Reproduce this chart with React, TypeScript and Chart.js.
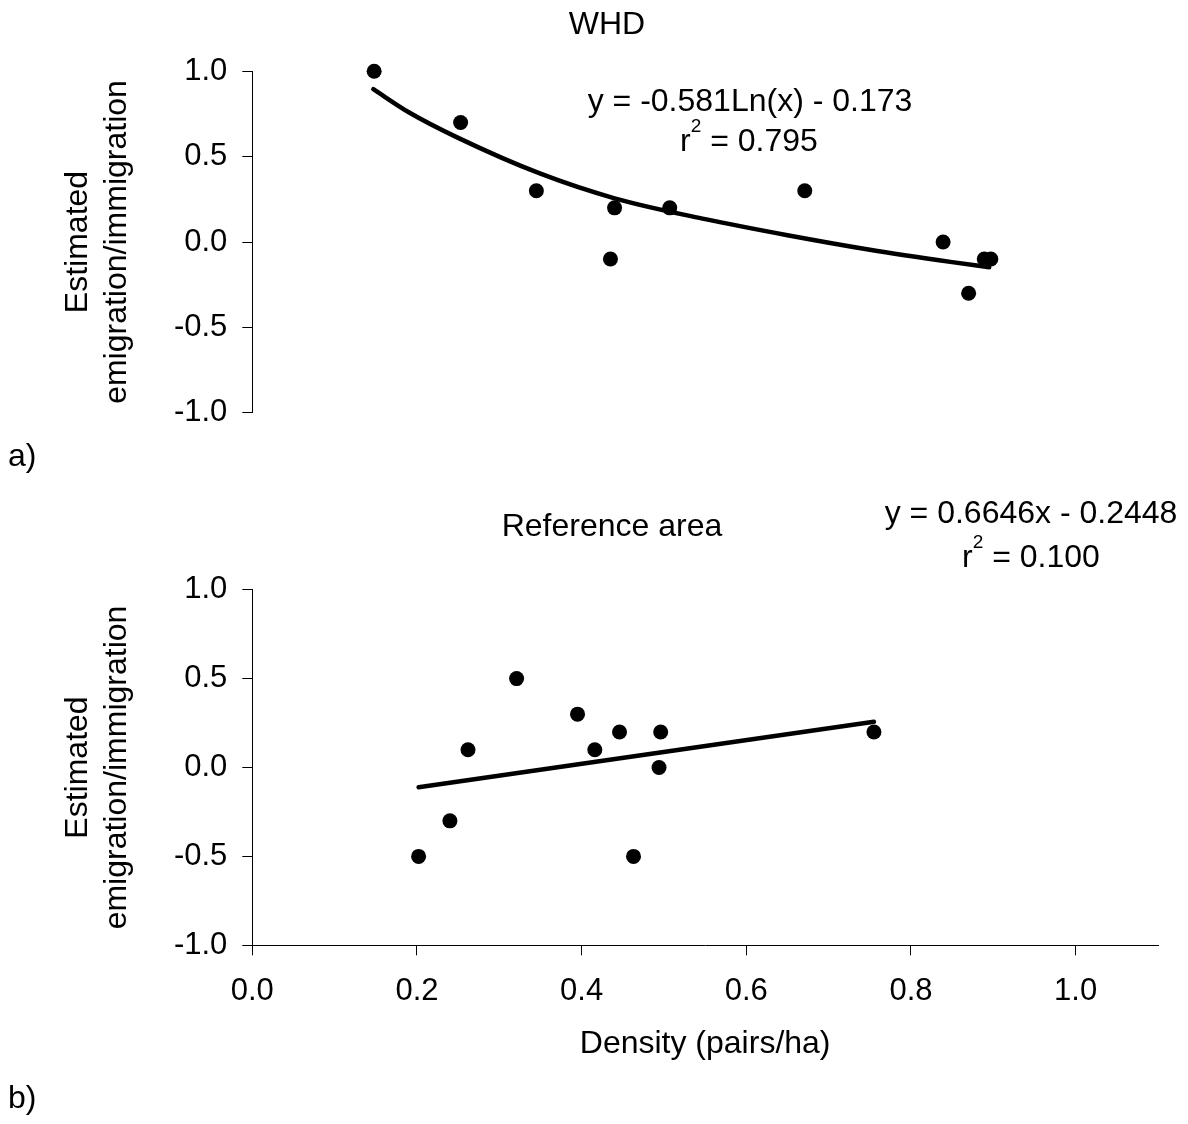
import React, { useEffect, useRef } from 'react';
import { Chart, registerables } from 'chart.js';

Chart.register(...registerables);

const FONT = '"Liberation Sans", Arial, Helvetica, sans-serif';

// Panel a) WHD
const whdDensity = [0.148, 0.253, 0.345, 0.440, 0.435, 0.507, 0.671, 0.839, 0.870, 0.889, 0.897];
const whdEmigration = [1.0, 0.7, 0.3, 0.2, -0.1, 0.2, 0.3, 0.0, -0.3, -0.1, -0.1];
const whdTrendDensity = [0.147, 0.19, 0.25, 0.35, 0.44, 0.55, 0.65, 0.75, 0.85, 0.895];
const whdTrendValue = [0.895, 0.76, 0.61, 0.40, 0.256, 0.134, 0.04, -0.045, -0.118, -0.148];

// Panel b) Reference area
const refDensity = [0.202, 0.240, 0.262, 0.321, 0.395, 0.416, 0.446, 0.463, 0.494, 0.496, 0.755];
const refEmigration = [-0.5, -0.3, 0.1, 0.5, 0.3, 0.1, 0.2, -0.5, 0.0, 0.2, 0.2];
const refTrendDensity = [0.202, 0.755];
const refTrendValue = [-0.111, 0.257];

const xTickValues = [0, 0.2, 0.4, 0.6, 0.8, 1.0];
const yTickValues = [-1, -0.5, 0, 0.5, 1];

const panelTitles = ['WHD', 'Reference area'];
const panelLetters = ['a)', 'b)'];
const whdEquation = 'y = -0.581Ln(x) - 0.173';
const whdR2 = '0.795';
const refEquation = 'y = 0.6646x - 0.2448';
const refR2 = '0.100';
const yTitle = ['Estimated', 'emigration/immigration'];
const xTitle = 'Density (pairs/ha)';

const TOP_H = 480;
const BOT_H = 1124 - TOP_H;

type TextItem = { text: string; x: number; y: number; align?: CanvasTextAlign; size?: number };
type R2Item = { value: string; cx: number; y: number };

function textPlugin(id: string, offsetY: number, items: TextItem[], r2s: R2Item[]) {
  return {
    id,
    afterDraw(chart: any) {
      const ctx: CanvasRenderingContext2D = chart.ctx;
      ctx.save();
      ctx.fillStyle = '#000';
      ctx.textBaseline = 'alphabetic';
      for (const it of items) {
        ctx.font = `${it.size ?? 32}px ${FONT}`;
        ctx.textAlign = it.align ?? 'center';
        ctx.fillText(it.text, it.x, it.y - offsetY);
      }
      for (const r of r2s) {
        ctx.font = `32px ${FONT}`;
        const wr = ctx.measureText('r').width;
        const rest = ' = ' + r.value;
        const wrest = ctx.measureText(rest).width;
        ctx.font = `19px ${FONT}`;
        const w2 = ctx.measureText('2').width;
        const total = wr + w2 + wrest;
        let x = r.cx - total / 2;
        ctx.textAlign = 'left';
        ctx.font = `32px ${FONT}`;
        ctx.fillText('r', x, r.y - offsetY);
        x += wr;
        ctx.font = `19px ${FONT}`;
        ctx.fillText('2', x, r.y - offsetY - 19);
        x += w2;
        ctx.font = `32px ${FONT}`;
        ctx.fillText(rest, x, r.y - offsetY);
      }
      ctx.restore();
    },
  };
}

function axisStyle() {
  return {
    grid: { display: true, drawOnChartArea: false, drawTicks: true, tickLength: 10, color: '#000', lineWidth: 1 },
    border: { display: true, color: '#000', width: 1 },
  };
}

function yScale() {
  return {
    type: 'linear',
    min: -1,
    max: 1,
    afterFit: (s: any) => {
      s.width = 252.3;
    },
    afterBuildTicks: (s: any) => {
      s.ticks = yTickValues.map((v) => ({ value: v }));
    },
    ticks: {
      font: { family: FONT, size: 31 },
      color: '#000',
      padding: 15,
      callback: (v: any) => Number(v).toFixed(1),
    },
    ...axisStyle(),
    title: {
      display: true,
      text: yTitle,
      color: '#000',
      font: { family: FONT, size: 32, lineHeight: 1.22 },
      padding: { top: 58.7, bottom: 0 },
    },
  };
}

function datasets(xs: number[], ys: number[], tx: number[], ty: number[]) {
  return [
    {
      label: 'trend',
      data: tx.map((x, i) => ({ x, y: ty[i] })),
      showLine: true,
      pointRadius: 0,
      pointHoverRadius: 0,
      borderColor: '#000',
      borderWidth: 4.5,
      borderCapStyle: 'round',
      cubicInterpolationMode: 'monotone',
      clip: false,
    },
    {
      label: 'points',
      data: xs.map((x, i) => ({ x, y: ys[i] })),
      pointRadius: 7.5,
      pointHoverRadius: 7.5,
      backgroundColor: '#000',
      borderWidth: 0,
      pointBorderWidth: 0,
      clip: false,
    },
  ];
}

const commonPlugins = {
  legend: { display: false },
  tooltip: { enabled: false },
  title: { display: false },
};

export default function App() {
  const topRef = useRef<HTMLCanvasElement>(null);
  const botRef = useRef<HTMLCanvasElement>(null);

  useEffect(() => {
    const top = new Chart(topRef.current as HTMLCanvasElement, {
      type: 'scatter',
      data: { datasets: datasets(whdDensity, whdEmigration, whdTrendDensity, whdTrendValue) as any },
      options: {
        animation: false,
        responsive: false,
        devicePixelRatio: 1,
        events: [],
        layout: { padding: { left: 0, top: 71.3, right: 30, bottom: TOP_H - 412.7 } },
        scales: {
          x: { type: 'linear', min: 0, max: 1.1, display: false },
          y: yScale() as any,
        },
        plugins: commonPlugins as any,
      },
      plugins: [
        textPlugin(
          'topText',
          0,
          [
            { text: panelTitles[0], x: 607, y: 34.3 },
            { text: whdEquation, x: 750, y: 110.7 },
            { text: panelLetters[0], x: 8, y: 466, align: 'left' },
          ],
          [{ value: whdR2, cx: 749, y: 150.7 }]
        ),
      ],
    });

    const bot = new Chart(botRef.current as HTMLCanvasElement, {
      type: 'scatter',
      data: { datasets: datasets(refDensity, refEmigration, refTrendDensity, refTrendValue) as any },
      options: {
        animation: false,
        responsive: false,
        devicePixelRatio: 1,
        events: [],
        layout: { padding: { left: 0, top: 589.7 - TOP_H, right: 30, bottom: 28.7 } },
        scales: {
          x: {
            type: 'linear',
            min: 0,
            max: 1.1,
            afterFit: (s: any) => {
              s.height = 150;
            },
            afterBuildTicks: (s: any) => {
              s.ticks = xTickValues.map((v) => ({ value: v }));
            },
            ticks: {
              font: { family: FONT, size: 31 },
              color: '#000',
              padding: 17.4,
              maxRotation: 0,
              autoSkip: false,
              callback: (v: any) => Number(v).toFixed(1),
            },
            ...axisStyle(),
            title: {
              display: true,
              text: xTitle,
              color: '#000',
              font: { family: FONT, size: 32, lineHeight: 1.2 },
              padding: { top: 0, bottom: 32 },
            },
          } as any,
          y: yScale() as any,
        },
        plugins: commonPlugins as any,
      },
      plugins: [
        textPlugin(
          'botText',
          TOP_H,
          [
            { text: panelTitles[1], x: 612, y: 536 },
            { text: refEquation, x: 1031, y: 523 },
            { text: panelLetters[1], x: 8, y: 1108, align: 'left' },
          ],
          [{ value: refR2, cx: 1031, y: 567.3 }]
        ),
      ],
    });

    return () => {
      top.destroy();
      bot.destroy();
    };
  }, []);

  return (
    <div style={{ position: 'absolute', left: 0, top: 0, width: 1188, height: 1124, background: '#fff' }}>
      <canvas
        ref={topRef}
        width={1188}
        height={TOP_H}
        style={{ position: 'absolute', left: 0, top: 0, width: 1188, height: TOP_H, display: 'block' }}
      />
      <canvas
        ref={botRef}
        width={1188}
        height={BOT_H}
        style={{ position: 'absolute', left: 0, top: TOP_H, width: 1188, height: BOT_H, display: 'block' }}
      />
    </div>
  );
}
